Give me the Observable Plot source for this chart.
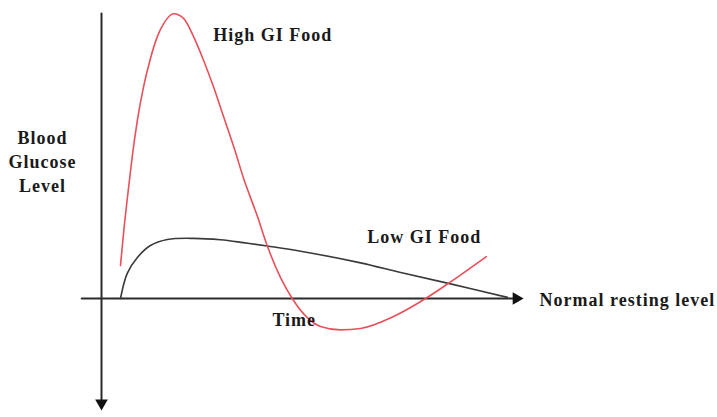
<!DOCTYPE html>
<html>
<head>
<meta charset="utf-8">
<script src="https://cdn.jsdelivr.net/npm/d3@7"></script>
<script src="https://cdn.jsdelivr.net/npm/@observablehq/plot@0.6"></script>
<style>
  html, body { margin: 0; padding: 0; background: #fff; }
  #chart svg { display: block; }
</style>
</head>
<body>
<div id="chart"></div>
<script>
// High GI food response (time, glucose relative to resting level)
const highTime = [4.5, 5.3, 6.5, 7.3, 8.5, 10.0, 11.6, 13.2, 14.8, 17.1, 19.5, 21.9, 24.2, 26.6, 29.0, 31.4, 33.7, 36.9, 39.3, 42.4, 45.2, 48.7, 51.9, 56.6, 61.4, 69.2, 76.8, 82.2, 91.2];
const highGlucose = [11.6, 24.0, 40.0, 50.0, 62.5, 74.5, 84.2, 91.8, 96.6, 99.9, 98.2, 91.6, 83.5, 74.0, 63.5, 53.0, 42.0, 29.0, 18.4, 7.4, 0, -6.6, -9.8, -11.0, -10.5, -6.3, 0, 5.3, 14.7];

// Low GI food response
const lowTime = [4.5, 6.1, 8.5, 11.6, 15.6, 21.9, 28.2, 33.6, 39.3, 47.2, 61.4, 70.9, 82.2, 96.2];
const lowGlucose = [0, 8.8, 14.4, 18.6, 20.7, 21.1, 20.6, 19.6, 18.4, 16.6, 12.5, 9.1, 5.3, 0.4];

// Axis extents (data units)
const timeAxis = [-4.7, 98.5];       // along glucose = 0
const glucoseAxis = [100, -37];      // along time = 0
const arrowTips = [
  {t: 98.3, g: 0, rot: 90},
  {t: 0, g: -36.7, rot: 180}
];

// Labels
const labels = [
  {t: 26.5, g: 90.5, text: "High GI Food"},
  {t: 63.0, g: 19.3, text: "Low GI Food"},
  {t: 40.5, g: -9.5, text: "Time"},
  {t: 103.8, g: -2.8, text: "Normal resting level"}
];
const yLabel = [{t: -14, g: 37.2, text: "Blood\nGlucose\nLevel"}];

const high = highTime.map((t, i) => ({t, g: highGlucose[i]}));
const low = lowTime.map((t, i) => ({t, g: lowGlucose[i]}));

const font = "Liberation Serif";

const chart = Plot.plot({
  width: 717,
  height: 417,
  marginLeft: 0, marginRight: 0, marginTop: 0, marginBottom: 0,
  x: {domain: [0, 100], range: [101, 523], axis: null},
  y: {domain: [0, 100], range: [298, 13], axis: null},
  style: {background: "#fff", overflow: "visible"},
  marks: [
    Plot.line(timeAxis.map(t => ({t, g: 0})), {x: "t", y: "g", stroke: "#2a2a2a", strokeWidth: 2}),
    Plot.line(glucoseAxis.map(g => ({t: 0, g})), {x: "t", y: "g", stroke: "#2a2a2a", strokeWidth: 2}),
    Plot.dot(arrowTips, {x: "t", y: "g", symbol: "triangle", r: 4.7, fill: "#111", stroke: "none", rotate: "rot"}),
    Plot.line(low, {x: "t", y: "g", curve: "catmull-rom", stroke: "#3a3a3a", strokeWidth: 1.6}),
    Plot.line(high, {x: "t", y: "g", curve: "monotone-x", stroke: "#e8505a", strokeWidth: 1.6}),
    Plot.text(labels, {x: "t", y: "g", text: "text", textAnchor: "start", lineAnchor: "bottom",
      fontSize: 18, fontWeight: "bold", fill: "#1a1a1a", fontFamily: font}),
    Plot.text(yLabel, {x: "t", y: "g", text: "text", textAnchor: "middle", lineAnchor: "bottom",
      lineHeight: 1.36, fontSize: 18, fontWeight: "bold", fill: "#1a1a1a", fontFamily: font})
  ]
});
chart.querySelectorAll("text").forEach(el => {
  el.style.letterSpacing = "1px";
  el.setAttribute("font-family", font);
  el.style.fontFamily = font;
});
document.getElementById("chart").appendChild(chart);
</script>
</body>
</html>
